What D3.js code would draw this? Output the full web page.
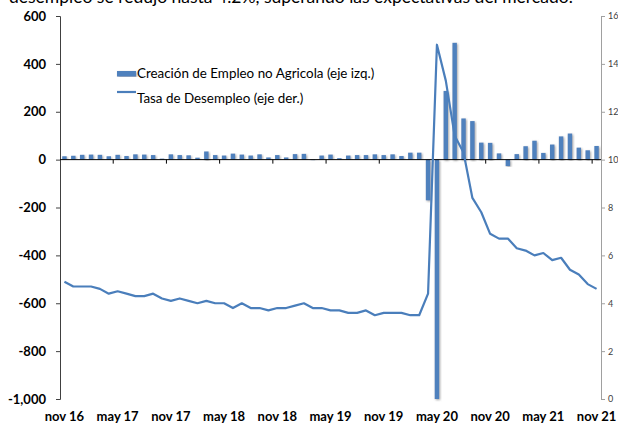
<!DOCTYPE html>
<html>
<head>
<meta charset="utf-8">
<script src="https://cdn.jsdelivr.net/npm/d3@7"></script>
<style>
  body { margin: 0; background: #fff; }
  text { font-family: Lato, "Open Sans", sans-serif; }
</style>
</head>
<body>
<div id="chart"></div>
<script>
// months on the category axis (nov 16 ... nov 21)
var mes = ["nov", "dic", "ene", "feb", "mar", "abr", "may", "jun", "jul", "ago", "sep", "oct"];
var months = [];
for (var i = 0; i < 61; i++) {
  var m = (10 + i) % 12, yr = 16 + Math.floor((10 + i) / 12);
  months.push(mes[(m + 2) % 12] + " " + yr);
}
// labels shown every 6 months
var tickLabels = ["nov 16", "may 17", "nov 17", "may 18", "nov 18", "may 19", "nov 19", "may 20", "nov 20", "may 21", "nov 21"];

// nonfarm job creation (left axis)
var empleo = [14, 16, 20, 21, 20, 14, 20, 15, 22, 21, 19, 4, 22, 19, 18, 8, 34, 19, 17, 25,
              21, 17, 22, 9, 19, 9, 23, 24, -2, 17, 21, 6, 17, 19, 19, 22, 19, 22, 15, 29,
              29, -170, -2068, 287, 488, 172, 161, 71, 70, 26, -27, 23, 56, 79, 28, 63, 97, 109, 50, 39, 57];

// unemployment rate (right axis)
var desempleo = [4.9, 4.7, 4.7, 4.7, 4.6, 4.4, 4.5, 4.4, 4.3, 4.3, 4.4, 4.2, 4.1, 4.2, 4.1, 4.0, 4.1, 4.0, 4.0, 3.8,
                 4.0, 3.8, 3.8, 3.7, 3.8, 3.8, 3.9, 4.0, 3.8, 3.8, 3.7, 3.7, 3.6, 3.6, 3.7, 3.5, 3.6, 3.6, 3.6, 3.5,
                 3.5, 4.4, 14.8, 13.3, 11.0, 10.3, 8.4, 7.8, 6.9, 6.7, 6.7, 6.3, 6.2, 6.0, 6.1, 5.8, 5.9, 5.4, 5.2, 4.8, 4.6];

var leftTicks = [-1000, -800, -600, -400, -200, 0, 200, 400, 600];
var rightTicks = [0, 2, 4, 6, 8, 10, 12, 14, 16];

var W = 618, H = 425;
var margin = {top: 16, right: 17, bottom: 26, left: 60};

var svg = d3.select("#chart").append("svg")
  .attr("width", W)
  .attr("height", H);

var defs = svg.append("defs");
var f = defs.append("filter").attr("id", "shadow")
  .attr("x", "-50%").attr("y", "-5%").attr("width", "200%").attr("height", "110%");
f.append("feDropShadow")
  .attr("dx", 1).attr("dy", 1).attr("stdDeviation", 0.8)
  .attr("flood-color", "#8c8c8c").attr("flood-opacity", 0.8);

// cut-off title line at the top (it is cut in the original too)
svg.append("text")
  .attr("x", 9).attr("y", 3)
  .attr("font-size", "17.5px")
  .attr("fill", "#000")
  .text("desempleo se redujo hasta 4.2%, superando las expectativas del mercado.");

var x = d3.scaleBand()
  .domain(months)
  .range([margin.left, W - margin.right])
  .paddingInner(0.5)
  .paddingOuter(0.25);

var yL = d3.scaleLinear()
  .domain([-1000, 600])
  .range([H - margin.bottom, margin.top])
  .clamp(true);

var yR = d3.scaleLinear()
  .domain([0, 16])
  .range([H - margin.bottom, margin.top]);

var step = x.step();
var fmt = function(d) { return d3.format(",")(d).replace("\u2212", "-"); };

// bars
svg.append("g")
  .selectAll("rect")
  .data(empleo)
  .enter()
  .append("rect")
    .attr("x", function(d, i) { return x(months[i]); })
    .attr("width", x.bandwidth())
    .attr("y", function(d) { return yL(Math.max(0, d)); })
    .attr("height", function(d) { return Math.abs(yL(d) - yL(0)); })
    .attr("fill", "#4f81bd")
    .attr("filter", "url(#shadow)");

// left axis
var gL = svg.append("g")
  .attr("transform", "translate(" + margin.left + ",0)")
  .call(d3.axisLeft(yL).tickValues(leftTicks).tickSize(4).tickPadding(10).tickFormat(fmt));
gL.select(".domain").attr("stroke", "#404040");
gL.selectAll(".tick line").attr("stroke", "#404040");
gL.selectAll("text")
  .attr("font-family", "Lato, sans-serif")
  .attr("font-weight", "bold")
  .attr("font-size", "13px")
  .attr("fill", "#000");

// right axis
var gR = svg.append("g")
  .attr("transform", "translate(" + (W - margin.right) + ",0)")
  .call(d3.axisRight(yR).tickValues(rightTicks).tickSize(4).tickPadding(3));
gR.select(".domain").attr("stroke", "#a0a0a0");
gR.selectAll(".tick line").attr("stroke", "#a0a0a0");
gR.selectAll("text")
  .attr("font-family", "Lato, sans-serif")
  .attr("font-size", "9px")
  .attr("fill", "#404040");

// category axis on the zero line
var y0 = yL(0);
var gX = svg.append("g");
gX.append("line")
  .attr("x1", margin.left).attr("x2", W - margin.right)
  .attr("y1", y0).attr("y2", y0)
  .attr("stroke", "#000");
var tickIdx = d3.range(0, months.length, 6);
gX.selectAll(".xt")
  .data(tickIdx.slice(1))
  .enter()
  .append("line")
    .attr("x1", function(i) { return x(months[i]) - step * x.paddingInner() / 2; })
    .attr("x2", function(i) { return x(months[i]) - step * x.paddingInner() / 2; })
    .attr("y1", y0).attr("y2", y0 + 4)
    .attr("stroke", "#000");

svg.append("g")
  .selectAll("text")
  .data(tickIdx)
  .enter()
  .append("text")
    .attr("x", function(i) { return x(months[i]) + x.bandwidth() / 2; })
    .attr("y", 421)
    .attr("text-anchor", "middle")
    .attr("font-weight", "bold")
    .attr("font-size", "13px")
    .attr("fill", "#000")
    .text(function(i, k) { return tickLabels[k]; });

// unemployment line
var line = d3.line()
  .x(function(d, i) { return x(months[i]) + x.bandwidth() / 2; })
  .y(function(d) { return yR(d); });

svg.append("path")
  .datum(desempleo)
  .attr("d", line)
  .attr("fill", "none")
  .attr("stroke", "#4a7ebb")
  .attr("stroke-width", 2.2)
  .attr("stroke-linejoin", "round");

// legend
var lg = svg.append("g");
lg.append("rect")
  .attr("x", 117).attr("y", 71).attr("width", 19).attr("height", 5.5)
  .attr("fill", "#4f81bd").attr("filter", "url(#shadow)");
lg.append("text")
  .attr("x", 137).attr("y", 78)
  .attr("font-size", "13.4px").attr("fill", "#000")
  .text("Creación de Empleo no Agricola (eje izq.)");
lg.append("line")
  .attr("x1", 117).attr("x2", 136).attr("y1", 92).attr("y2", 92)
  .attr("stroke", "#4a7ebb").attr("stroke-width", 2.2);
lg.append("text")
  .attr("x", 137).attr("y", 103)
  .attr("font-size", "13.4px").attr("fill", "#000")
  .text("Tasa de Desempleo (eje der.)");
</script>
</body>
</html>
